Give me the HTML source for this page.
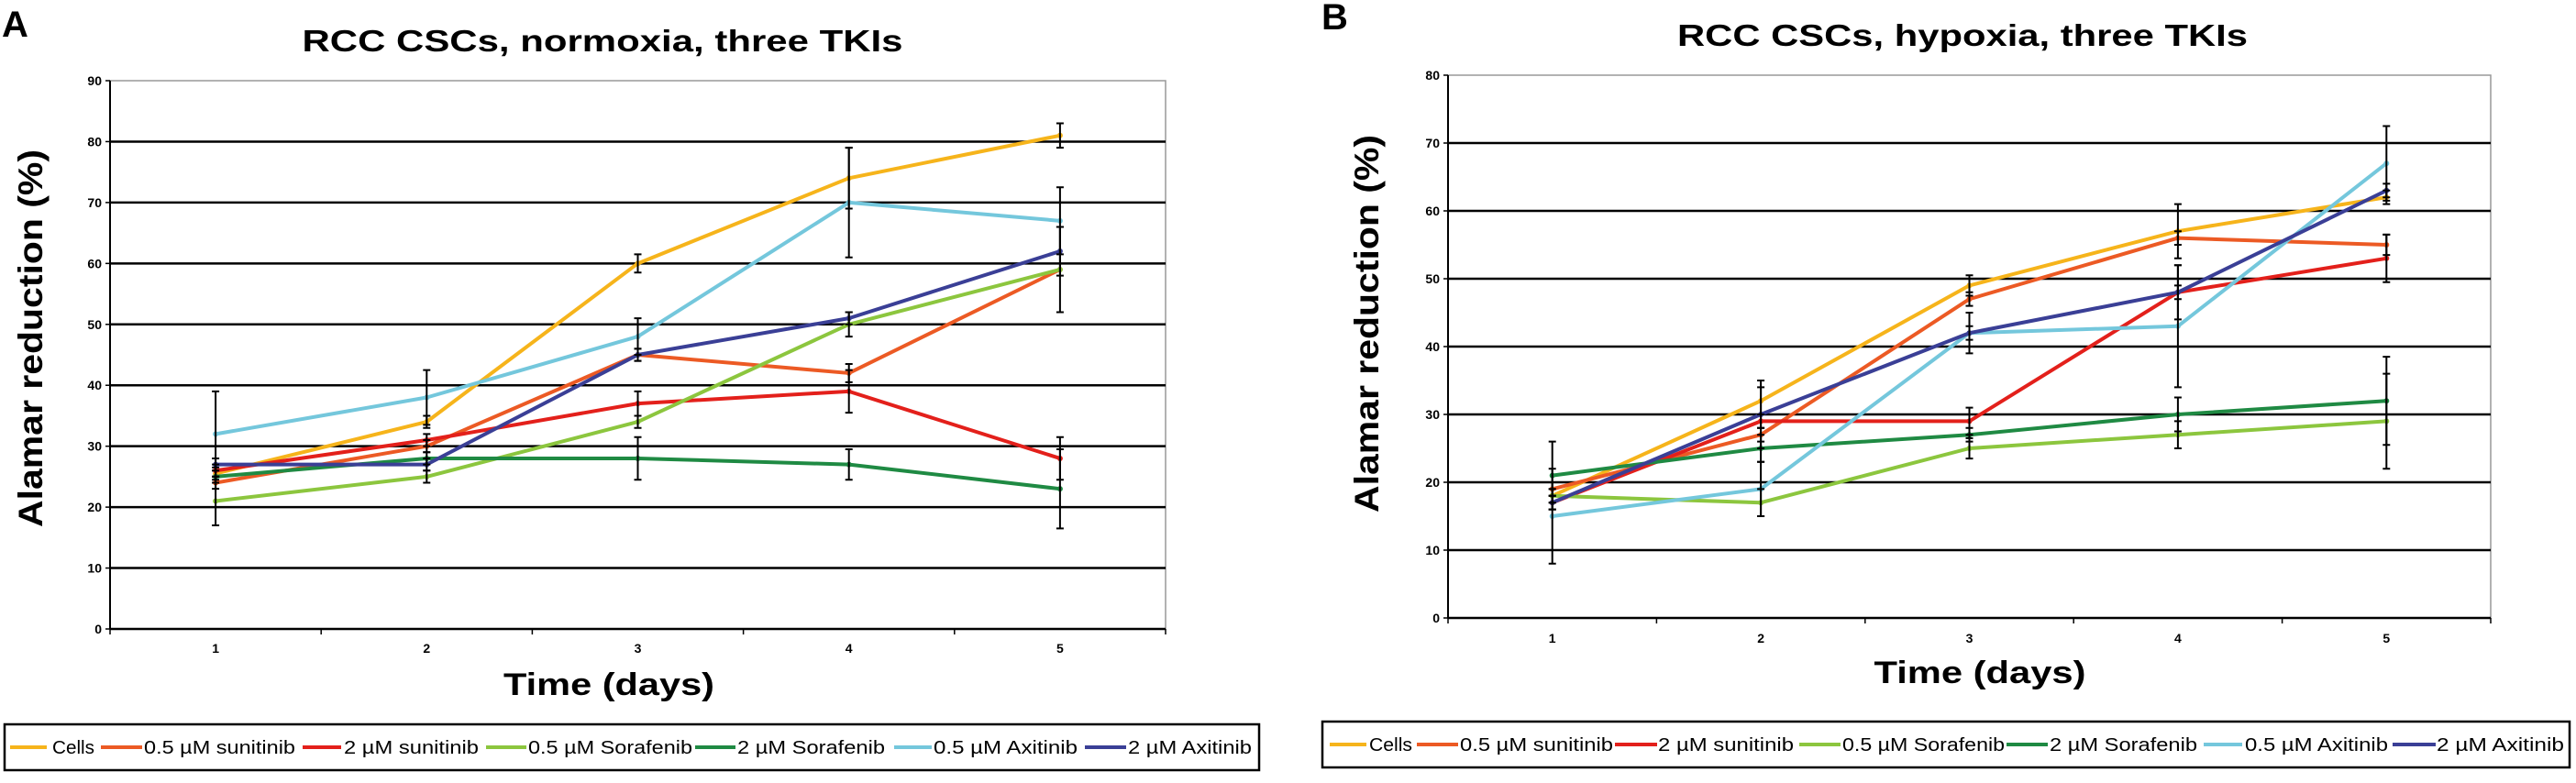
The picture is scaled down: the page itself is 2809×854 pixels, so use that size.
<!DOCTYPE html>
<html><head><meta charset="utf-8"><style>
html,body{margin:0;padding:0;background:#fff;}
svg{display:block;font-family:"Liberation Sans",Arial,sans-serif;}
</style></head><body>
<svg id="fig" width="2809" height="854" viewBox="0 0 2809 854" xmlns="http://www.w3.org/2000/svg">
<text x="2" y="40" font-size="40" font-weight="bold">A</text>
<text x="1441" y="32" font-size="40" font-weight="bold">B</text>
<text x="657" y="56" font-size="33" font-weight="bold" text-anchor="middle" textLength="655" lengthAdjust="spacingAndGlyphs">RCC CSCs, normoxia, three TKIs</text>
<text x="2140" y="50" font-size="33" font-weight="bold" text-anchor="middle" textLength="622" lengthAdjust="spacingAndGlyphs">RCC CSCs, hypoxia, three TKIs</text>
<text transform="translate(46,369) rotate(-90)" font-size="37" font-weight="bold" text-anchor="middle" textLength="412" lengthAdjust="spacingAndGlyphs">Alamar reduction (%)</text>
<text transform="translate(1503,353) rotate(-90)" font-size="37" font-weight="bold" text-anchor="middle" textLength="412" lengthAdjust="spacingAndGlyphs">Alamar reduction (%)</text>
<text x="664" y="758" font-size="34" font-weight="bold" text-anchor="middle" textLength="230" lengthAdjust="spacingAndGlyphs">Time (days)</text>
<text x="2159" y="745" font-size="34" font-weight="bold" text-anchor="middle" textLength="231" lengthAdjust="spacingAndGlyphs">Time (days)</text>
<g id="pa"></g>
<g id="pb"></g>
</svg>
<script>
const categories = [1, 2, 3, 4, 5];
const seriesNames = ["Cells", "0.5 µM sunitinib", "2 µM sunitinib", "0.5 µM Sorafenib", "2 µM Sorafenib", "0.5 µM Axitinib", "2 µM Axitinib"];
const seriesColors = ["#f6b41b", "#ec5a24", "#e3201b", "#8cc63e", "#1f8a43", "#74c7dc", "#3a3f96"];
// Panel A (normoxia)
const aCells = [25.5, 34, 60, 74, 81];
const aSun05 = [24, 30, 45, 42, 59];
const aSun2 = [26, 31, 37, 39, 28];
const aSor05 = [21, 25, 34, 50, 59];
const aSor2 = [25, 28, 28, 27, 23];
const aAxi05 = [32, 38, 48, 70, 67];
const aAxi2 = [27, 27, 45, 51, 62];
const aErrCells = [1, 1, 1.5, 5, 2];
const aErrSun05 = [1, 1, 1, 1.5, 0.5];
const aErrSun2 = [1, 1, 2, 3.5, 3.5];
const aErrSor05 = [4, 1, 1, 2, 7];
const aErrSor2 = [1, 1, 3.5, 2.5, 6.5];
const aErrAxi05 = [7, 4.5, 3, 9, 5.5];
const aErrAxi2 = [1, 1, 1, 1, 4];
const aTicks = [0, 10, 20, 30, 40, 50, 60, 70, 80, 90];
// Panel B (hypoxia)
const bCells = [18, 32, 49, 57, 62];
const bSun05 = [19, 27, 47, 56, 55];
const bSun2 = [17, 29, 29, 48, 53];
const bSor05 = [18, 17, 25, 27, 29];
const bSor2 = [21, 25, 27, 30, 32];
const bAxi05 = [15, 19, 42, 43, 67];
const bAxi2 = [17, 30, 42, 48, 63];
const bErrCells = [1, 2, 1.5, 4, 1];
const bErrSun05 = [1, 1, 1, 1, 1.5];
const bErrSun2 = [1, 1, 2, 4, 3.5];
const bErrSor05 = [1, 2, 1.5, 2, 7];
const bErrSor2 = [5, 2, 1, 2.5, 6.5];
const bErrAxi05 = [7, 4, 3, 9, 5.5];
const bErrAxi2 = [1, 5, 1, 1, 1];
const bTicks = [0, 10, 20, 30, 40, 50, 60, 70, 80];

const NS = "http://www.w3.org/2000/svg";
function mk(parent, tag, attrs, text) {
  const e = document.createElementNS(NS, tag);
  for (const k in attrs) e.setAttribute(k, attrs[k]);
  if (text !== undefined) e.textContent = text;
  parent.appendChild(e);
  return e;
}

function drawPanel(g, p, vals, errs, ticks, legend) {
  const ymax = ticks[ticks.length - 1];
  const band = (p.right - p.left) / categories.length;
  const xS = i => p.left + band * (i + 0.5);
  const yS = v => p.bottom - (v / ymax) * (p.bottom - p.top);
  // plot border
  const border = mk(g, "rect", {x: p.left, y: p.top, width: p.right - p.left, height: p.bottom - p.top, fill: "none", stroke: "#999", "stroke-width": 1.5});
  
  
  ticks.forEach(t => {
    const y = yS(t);
    if (t > 0 && t < ymax) {
      const gl = mk(g, "line", {x1: p.left, x2: p.right, y1: y, y2: y, stroke: "#000", "stroke-width": 2.5});
      
      
    }
    const tk = mk(g, "line", {x1: p.left - 5, x2: p.left, y1: y, y2: y, stroke: "#000", "stroke-width": 1.5});
    
    
    const tl = mk(g, "text", {x: p.left - 9, y: y + 5, "font-size": 14, "font-weight": "bold", "text-anchor": "end"}, String(t));
    
    
  });
  const ya = mk(g, "line", {x1: p.left, x2: p.left, y1: p.top, y2: p.bottom, stroke: "#000", "stroke-width": 2});
  
  
  const xa = mk(g, "line", {x1: p.left, x2: p.right, y1: p.bottom, y2: p.bottom, stroke: "#000", "stroke-width": 2.5});
  
  
  for (let i = 0; i <= categories.length; i++) {
    const x = p.left + band * i;
    const tk = mk(g, "line", {x1: x, x2: x, y1: p.bottom, y2: p.bottom + 6, stroke: "#000", "stroke-width": 1.5});
    
    
  }
  categories.forEach((c, i) => {
    const tl = mk(g, "text", {x: xS(i), y: p.tickY, "font-size": 14, "font-weight": "bold", "text-anchor": "middle"}, String(c));
    
    
  });
  // series lines
  vals.forEach((arr, s) => {
    const pts = arr.map((v, i) => xS(i) + "," + yS(v)).join(" ");
    const pl = mk(g, "polyline", {points: pts, fill: "none", stroke: seriesColors[s], "stroke-width": 4, "stroke-linejoin": "round"});
    
    
    arr.forEach((v, i) => {
      const m = mk(g, "circle", {cx: xS(i), cy: yS(v), r: 3, fill: seriesColors[s]});
      
      
    });
  });
  // error bars
  vals.forEach((arr, s) => {
    arr.forEach((v, i) => {
      const e = errs[s][i];
      if (!e || e < 0.8) return;
      const x = xS(i), y1 = yS(v - e), y2 = yS(v + e);
      const eb = mk(g, "path", {d: `M${x},${y1}V${y2}M${x-4},${y1}H${x+4}M${x-4},${y2}H${x+4}`, stroke: "#000", "stroke-width": 2, fill: "none"});
      
      
    });
  });
  // legend
  const lb = mk(g, "rect", {x: legend.x, y: legend.y, width: legend.w, height: legend.h, fill: "#fff", stroke: "#000", "stroke-width": 2.5});
  
  
  legend.items.forEach((it, s) => {
    const cy = legend.y + legend.h / 2;
    const sw = mk(g, "line", {x1: it[0], x2: it[1], y1: cy, y2: cy, stroke: seriesColors[s], "stroke-width": 4});
    
    
    const tx = mk(g, "text", {x: it[2], y: cy + 7, "font-size": 20, textLength: it[3] - it[2], lengthAdjust: "spacingAndGlyphs"}, seriesNames[s]);
    
    
  });
}

drawPanel(document.getElementById("pa"),
  {left: 120, right: 1271, top: 88, bottom: 686, tickY: 712},
  [aCells, aSun05, aSun2, aSor05, aSor2, aAxi05, aAxi2],
  [aErrCells, aErrSun05, aErrSun2, aErrSor05, aErrSor2, aErrAxi05, aErrAxi2],
  aTicks,
  {x: 5, y: 790, w: 1368, h: 50, items: [[11,51,57,103],[110,155,157,322],[330,372,375,522],[530,574,576,755],[758,802,804,965],[975,1016,1018,1175],[1183,1228,1230,1365]]});

drawPanel(document.getElementById("pb"),
  {left: 1579, right: 2716, top: 82, bottom: 674, tickY: 701},
  [bCells, bSun05, bSun2, bSor05, bSor2, bAxi05, bAxi2],
  [bErrCells, bErrSun05, bErrSun2, bErrSor05, bErrSor2, bErrAxi05, bErrAxi2],
  bTicks,
  {x: 1442, y: 787, w: 1360, h: 50, items: [[1450,1490,1493,1540],[1545,1590,1592,1759],[1761,1807,1808,1956],[1962,2007,2009,2186],[2188,2233,2235,2396],[2403,2445,2448,2604],[2609,2656,2657,2796]]});
</script>
</body></html>
